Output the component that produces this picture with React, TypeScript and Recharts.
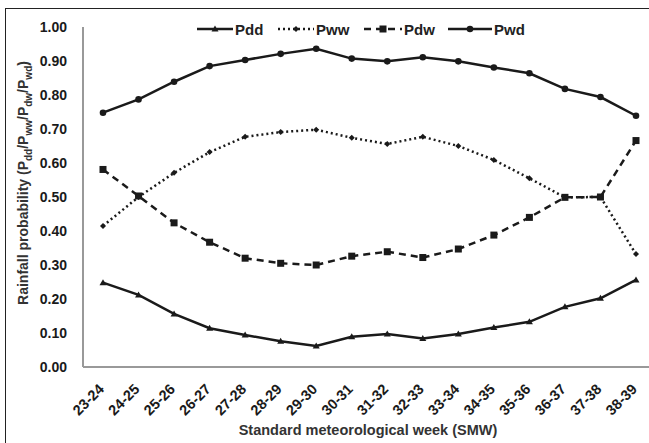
import { LineChart, Line, XAxis, YAxis } from 'recharts';

const weeks = ['23-24', '24-25', '25-26', '26-27', '27-28', '28-29', '29-30', '30-31', '31-32', '32-33', '33-34', '34-35', '35-36', '36-37', '37-38', '38-39'];
const pdd = [0.248, 0.212, 0.156, 0.114, 0.094, 0.076, 0.062, 0.089, 0.097, 0.084, 0.097, 0.116, 0.133, 0.177, 0.202, 0.256];
const pww = [0.415, 0.5, 0.571, 0.632, 0.677, 0.691, 0.698, 0.674, 0.656, 0.677, 0.65, 0.609, 0.555, 0.499, 0.5, 0.332];
const pdw = [0.581, 0.503, 0.424, 0.367, 0.32, 0.305, 0.3, 0.326, 0.339, 0.322, 0.347, 0.388, 0.44, 0.499, 0.5, 0.666];
const pwd = [0.748, 0.787, 0.839, 0.885, 0.903, 0.921, 0.936, 0.907, 0.899, 0.911, 0.899, 0.881, 0.864, 0.818, 0.794, 0.739];
const yTicks = [0, 0.1, 0.2, 0.3, 0.4, 0.5, 0.6, 0.7, 0.8, 0.9, 1.0];

const data = weeks.map((w, i) => ({ week: w, pdd: pdd[i], pww: pww[i], pdw: pdw[i], pwd: pwd[i] }));

const FONT = '"Liberation Sans", Arial, sans-serif';
const INK = '#1a1a1a';

type Shape = 'triangle' | 'diamond' | 'square' | 'circle';

function Marker({ cx, cy, shape }: { cx: number; cy: number; shape: Shape }) {
  if (shape === 'triangle') {
    return <polygon points={`${cx},${cy - 3.5} ${cx + 3.5},${cy + 2.5} ${cx - 3.5},${cy + 2.5}`} fill={INK} />;
  }
  if (shape === 'diamond') {
    return <polygon points={`${cx},${cy - 3} ${cx + 3},${cy} ${cx},${cy + 3} ${cx - 3},${cy}`} fill={INK} />;
  }
  if (shape === 'square') {
    return <rect x={cx - 3.5} y={cy - 3.5} width={7} height={7} fill={INK} />;
  }
  return <circle cx={cx} cy={cy} r={3.3} fill={INK} />;
}

const dotFor = (shape: Shape) => (props: any) => (
  <Marker key={`${shape}-${props.index}`} cx={props.cx} cy={props.cy} shape={shape} />
);

// rotated category labels, right end sits just under the tick
const XTick = (props: any) => {
  const { x, y, payload } = props;
  const ax = x + 2;
  const ay = y + 15;
  return (
    <text
      x={ax}
      y={ay}
      transform={`rotate(-45, ${ax}, ${ay})`}
      textAnchor="end"
      fontSize={14.5}
      fontWeight="bold"
      fontFamily={FONT}
      fill={INK}
    >
      {payload.value}
    </text>
  );
};

const YLabel = (props: any) => {
  const { viewBox } = props;
  const cx = 23;
  const cy = viewBox.y + viewBox.height / 2 - 14;
  const sub = { fontSize: 10, baselineShift: 'sub' } as any;
  return (
    <text
      x={cx}
      y={cy}
      transform={`rotate(-90, ${cx}, ${cy})`}
      textAnchor="middle"
      dominantBaseline="central"
      fontSize={14}
      fontWeight="bold"
      fontFamily={FONT}
      fill="#333"
    >
      Rainfall probability (P<tspan style={sub}>dd</tspan>/P<tspan style={sub}>ww</tspan>/P
      <tspan style={sub}>dw</tspan>/P<tspan style={sub}>wd</tspan>)
    </text>
  );
};

const XLabel = (props: any) => {
  const { viewBox } = props;
  return (
    <text
      x={viewBox.x + viewBox.width / 2 + 2}
      y={435}
      textAnchor="middle"
      fontSize={14.5}
      fontWeight="bold"
      fontFamily={FONT}
      fill="#333"
    >
      Standard meteorological week (SMW)
    </text>
  );
};

const legendItems: { name: string; shape: Shape; dash?: string; left: number; width: number }[] = [
  { name: 'Pdd', shape: 'triangle', left: 197, width: 36 },
  { name: 'Pww', shape: 'diamond', dash: '2 3', left: 278, width: 36 },
  { name: 'Pdw', shape: 'square', dash: '7 5', left: 364, width: 38 },
  { name: 'Pwd', shape: 'circle', left: 448, width: 44 },
];

function LegendRow() {
  return (
    <>
      {legendItems.map((it) => (
        <div
          key={it.name}
          style={{ position: 'absolute', left: it.left, top: 20, height: 18, display: 'flex', alignItems: 'center' }}
        >
          <svg width={it.width} height={18}>
            <line x1={0} y1={9} x2={it.width} y2={9} stroke={INK} strokeWidth={2.5} strokeDasharray={it.dash} />
            <Marker cx={it.width / 2} cy={9} shape={it.shape} />
          </svg>
          <span style={{ fontFamily: FONT, fontWeight: 'bold', fontSize: 15, color: '#222', marginLeft: 2 }}>{it.name}</span>
        </div>
      ))}
    </>
  );
}

export default function App() {
  return (
    <div style={{ position: 'absolute', left: 0, top: 0, width: 649, height: 443, background: '#fff', overflow: 'hidden' }}>
      <div
        style={{
          position: 'absolute',
          left: 5,
          top: 8,
          width: 660,
          height: 450,
          borderTop: '1.5px solid #222',
          borderLeft: '1.5px solid #222',
        }}
      />
      <div style={{ position: 'absolute', left: 0, top: 0 }}>
        <LineChart width={649} height={443} data={data} margin={{ top: 27, right: 0, bottom: 0, left: 20 }}>
          <XAxis
            dataKey="week"
            height={76}
            interval={0}
            padding={{ left: 20, right: 13 }}
            axisLine={{ stroke: '#999', strokeWidth: 2 }}
            tickLine={false}
            tick={<XTick />}
            label={<XLabel />}
          />
          <YAxis
            width={63}
            domain={[0, 1]}
            ticks={yTicks}
            tickFormatter={(v: number) => v.toFixed(2)}
            axisLine={{ stroke: '#999', strokeWidth: 2 }}
            tickLine={false}
            tick={{ fontSize: 14, fontWeight: 'bold', fontFamily: FONT, fill: INK }}
            tickMargin={10}
            label={<YLabel />}
          />
          <Line dataKey="pdd" stroke={INK} strokeWidth={2.5} dot={dotFor('triangle')} isAnimationActive={false} />
          <Line dataKey="pww" stroke={INK} strokeWidth={2.5} strokeDasharray="2 3" dot={dotFor('diamond')} isAnimationActive={false} />
          <Line dataKey="pdw" stroke={INK} strokeWidth={2.5} strokeDasharray="7 5" dot={dotFor('square')} isAnimationActive={false} />
          <Line dataKey="pwd" stroke={INK} strokeWidth={2.5} dot={dotFor('circle')} isAnimationActive={false} />
        </LineChart>
      </div>
      <LegendRow />
    </div>
  );
}
